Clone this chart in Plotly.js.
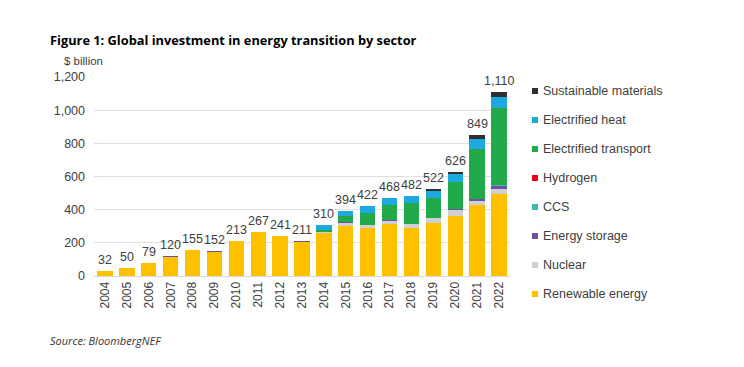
<!DOCTYPE html>
<html><head><meta charset="utf-8">
<script src="https://cdn.plot.ly/plotly-3.0.1.min.js"></script>
<style>html,body{margin:0;padding:0;background:#fff;}#chart{width:744px;height:367px;}</style>
</head><body><div id="chart"></div>
<script>
const years = ['2004','2005','2006','2007','2008','2009','2010','2011','2012','2013','2014','2015','2016','2017','2018','2019','2020','2021','2022'];
const totals = [32,50,79,120,155,152,213,267,241,211,310,394,422,468,482,522,626,849,1110];
const renewable = [32,50,76,114,155,147,213,267,241,203,262,301,289,314,289,318,364,428,495];
const nuclear = [0,0,0,0,0,0,0,0,0,0,5,21,18,20,23,30,34,26,31];
const storage = [0,0,3,6,0,5,0,0,0,8,0,1,2,3,4,4,5,8,16];
const ccs = [0,0,0,0,0,0,0,0,0,0,0,0,0,0,0,0,0,2,6];
const hydrogen = [0,0,0,0,0,0,0,0,0,0,0,0,0,0,0,0,0,0,1];
const transport = [0,0,0,0,0,0,0,0,0,0,13,36,73,91,122,120,166,300,466];
const heat = [0,0,0,0,0,0,0,0,0,0,30,35,40,40,44,42,44,64,64];
const materials = [0,0,0,0,0,0,0,0,0,0,0,0,0,0,0,8,13,21,31];
const seriesNames = ['Renewable energy','Nuclear','Energy storage','CCS','Hydrogen','Electrified transport','Electrified heat','Sustainable materials'];
const seriesValues = [renewable, nuclear, storage, ccs, hydrogen, transport, heat, materials];
const seriesColors = ['#ffc000','#d0d0d0','#7050a0','#3cb8b0','#e8001c','#22aa4a','#1ea8e0','#303030'];
const yTicks = [0,200,400,600,800,1000,1200];
const yTickText = ['0','200','400','600','800','1,000','1,200'];
const totalText = ['32','50','79','120','155','152','213','267','241','211','310','394','422','468','482','522','626','849','1,110'];

const traces = seriesNames.map((n,i)=>({
  type:'bar', name:n, x:years, y:seriesValues[i],
  marker:{color:seriesColors[i], line:{width:0}},
  showlegend:false, hoverinfo:'skip'
}));

const shapes = [];
const annotations = [];
years.forEach((yr,i)=>{
  annotations.push({x:i, y:totals[i], xref:'x', yref:'y', text:totalText[i], showarrow:false,
    yanchor:'bottom', xanchor:'center', yshift:2,
    font:{family:'Liberation Sans, Arial', size:12.5, color:'#404040'}});
});
const legendOrder = seriesNames.map((n,i)=>i).reverse();
legendOrder.forEach((idx,k)=>{
  const yc = 91 + k*29;
  shapes.push({type:'rect', xref:'paper', yref:'paper',
    x0:(532-94)/416, x1:(538-94)/416,
    y0:(276-yc-3)/199, y1:(276-yc+3)/199,
    fillcolor:seriesColors[idx], line:{width:0}});
  annotations.push({xref:'paper', yref:'paper', x:(541-94)/416, y:(276-yc)/199,
    xanchor:'left', yanchor:'middle', showarrow:false, text:seriesNames[idx],
    font:{family:'Liberation Sans, Arial', size:12.5, color:'#404040'}});
});
annotations.push({xref:'paper', yref:'paper', x:(48-94)/416, y:(276-40)/199, xanchor:'left', yanchor:'middle', showarrow:false,
  text:'<b>Figure 1: Global investment in energy transition by sector</b>',
  font:{family:'Open Sans', size:12.8, color:'#000'}});
annotations.push({xref:'paper', yref:'paper', x:(62-94)/416, y:(276-61)/199, xanchor:'left', yanchor:'middle', showarrow:false,
  text:'$ billion', font:{family:'Liberation Sans, Arial', size:11.5, color:'#404040'}});
annotations.push({xref:'paper', yref:'paper', x:(48-94)/416, y:(276-340)/199, xanchor:'left', yanchor:'middle', showarrow:false,
  text:'<i>Source: BloombergNEF</i>', font:{family:'Open Sans', size:11, color:'#333'}});

const layout = {
  width:744, height:367,
  margin:{l:94, r:234, t:77, b:91, pad:0},
  paper_bgcolor:'#fff', plot_bgcolor:'#fff',
  barmode:'stack', bargap:0.3,
  showlegend:false,
  xaxis:{type:'category', range:[-0.5, years.length-0.5], autorange:false, tickangle:-90,
    tickfont:{family:'Liberation Sans, Arial', size:12, color:'#404040'},
    showgrid:false, showline:true, linecolor:'#d9d9d9', ticks:'', zeroline:false},
  yaxis:{range:[0,1200], autorange:false, tickvals:yTicks, ticktext:yTickText, tickfont:{family:'Liberation Sans, Arial', size:12.5, color:'#404040'},
    showgrid:true, gridcolor:'#e0e0e0', gridwidth:1, zeroline:false, showline:false, ticks:'', ticklabelstandoff:8},
  shapes:shapes, annotations:annotations
};
Plotly.newPlot('chart', traces, layout, {displayModeBar:false, staticPlot:true});
</script></body></html>
